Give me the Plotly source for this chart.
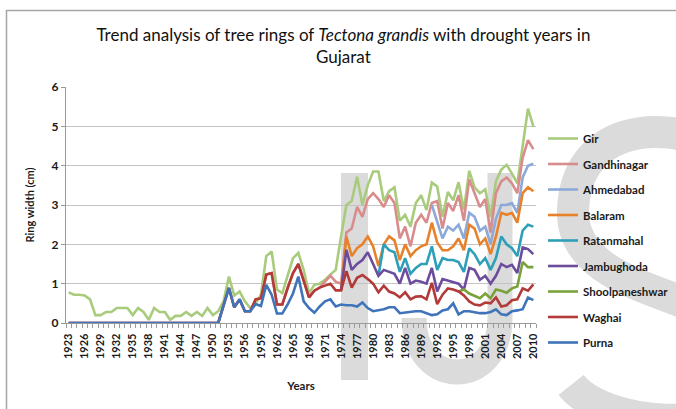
import plotly.graph_objects as go

years = list(range(1923, 2011))
tick_years = list(range(1923, 2011, 3))

# Visible line levels (cm); a series that has not started
# yet lies on the line of the series below it.
gir = [0.78, 0.72, 0.72, 0.7, 0.6, 0.2, 0.2, 0.28, 0.28, 0.38,
       0.38, 0.38, 0.2, 0.38, 0.28, 0.08, 0.38, 0.28, 0.28, 0.08,
       0.18, 0.18, 0.28, 0.18, 0.28, 0.18, 0.38, 0.2, 0.3, 0.55,
       1.18, 0.7, 0.8, 0.55, 0.38, 0.5, 0.72, 1.7, 1.82, 0.85,
       0.76, 1.18, 1.65, 1.78, 1.35, 0.76, 0.97, 1.0,
       1.1, 1.23, 1.35, 2.2, 3.0, 3.1, 3.72, 3.0, 3.5, 3.85,
       3.85, 3.1, 3.35, 3.45, 2.6, 2.75, 2.45, 3.05, 3.25, 2.87,
       3.57, 3.47, 2.7, 3.33, 3.12, 3.58, 2.87, 3.87, 3.45, 3.3,
       3.4, 2.7, 3.6, 3.9, 4.02, 3.8, 3.55, 4.5, 5.45, 5.0]
gandhinagar_start = 1971
gandhinagar = [1.05, 1.2, 1.05, 1.0, 2.3, 2.4, 2.95, 2.7, 3.15, 3.3,
               3.15, 2.95, 3.25, 3.05, 2.15, 2.45, 1.95, 2.55, 2.75, 2.55,
               3.05, 3.1, 2.4, 3.05, 2.85, 3.25, 2.6, 3.65, 3.3, 2.95,
               3.15, 2.3, 3.3, 3.6, 3.7, 3.55, 3.3, 4.2, 4.65, 4.42]
ahmedabad_start = 1991
ahmedabad = [3.0, 2.55, 2.15, 2.45, 2.35, 2.5, 2.15, 2.8, 2.7, 2.35,
             2.45, 2.0, 2.65, 3.0, 3.0, 3.05, 2.8, 3.7, 4.0, 4.05]
balaram_start = 1975
balaram = [2.2, 1.7, 1.9, 2.0, 2.2, 1.95, 1.45, 2.0, 2.2, 2.1,
           1.6, 2.0, 1.7, 1.85, 1.95, 2.0, 2.55, 2.05, 1.85, 1.85,
           1.95, 2.15, 1.85, 2.5, 2.4, 2.0, 2.15, 1.75, 2.2, 2.8,
           2.75, 2.8, 2.55, 3.3, 3.45, 3.35]
ratanmahal_start = 1982
ratanmahal = [2.0, 1.85, 1.8, 1.3, 1.65, 1.25, 1.4, 1.5, 1.5, 1.95,
              1.35, 1.65, 1.6, 1.6, 1.55, 1.3, 1.9, 1.75, 1.5, 1.65,
              1.35, 1.65, 2.2, 2.0, 1.9, 1.7, 2.35, 2.5, 2.45]
jambughoda_start = 1975
jambughoda = [1.86, 1.35, 1.5, 1.6, 1.8, 1.5, 1.2, 1.35, 1.3, 1.25,
              1.0, 1.4, 1.0, 1.08, 1.05, 1.0, 1.4, 0.8, 1.12, 1.08,
              1.05, 1.0, 0.85, 1.4, 1.35, 1.1, 1.2, 1.0, 1.2, 1.5,
              1.42, 1.48, 1.27, 1.92, 1.88, 1.75]
shoolpaneshwar_start = 1997
shoolpaneshwar = [0.85, 0.75, 0.68, 0.63, 0.75, 0.63, 0.85, 0.82, 0.77, 0.88,
                  0.93, 1.55, 1.42, 1.42]
waghai_start = 1958
waghai = [0.6, 0.63, 1.23, 1.27, 0.47, 0.47, 0.89, 1.27, 1.5, 1.1,
          0.65, 0.82, 0.9, 0.95, 1.0, 0.83, 0.83, 1.32, 0.9, 1.15,
          1.22, 1.12, 1.0, 0.78, 0.95, 0.8, 0.75, 0.65, 0.78, 0.6,
          0.67, 0.68, 0.6, 1.02, 0.48, 0.72, 0.88, 0.85, 0.8, 0.7,
          0.55, 0.47, 0.45, 0.52, 0.5, 0.65, 0.42, 0.45, 0.58, 0.6,
          0.88, 0.82, 0.98]
purna = [0, 0, 0, 0, 0, 0, 0, 0, 0, 0,
         0, 0, 0, 0, 0, 0, 0, 0, 0, 0,
         0, 0, 0, 0, 0, 0, 0, 0, 0, 0.45,
         0.89, 0.4, 0.6, 0.3, 0.3, 0.48, 0.43, 0.97, 0.72, 0.24,
         0.24, 0.47, 0.75, 1.18, 0.55, 0.38, 0.26, 0.42, 0.55, 0.6,
         0.42, 0.47, 0.45, 0.45, 0.42, 0.52, 0.38, 0.3, 0.33, 0.35,
         0.4, 0.4, 0.25, 0.27, 0.28, 0.3, 0.3, 0.25, 0.2, 0.22,
         0.32, 0.35, 0.5, 0.22, 0.3, 0.3, 0.27, 0.25, 0.25, 0.28,
         0.35, 0.22, 0.2, 0.3, 0.32, 0.35, 0.65, 0.58]

def pad(start, vals):
    return [None] * (start - years[0]) + list(vals)

# bottom-to-top order
names_bottom_up = ["Purna", "Waghai", "Shoolpaneshwar", "Jambughoda", "Ratanmahal",
                   "Balaram", "Ahmedabad", "Gandhinagar", "Gir"]
starts = {"Purna": 1923, "Waghai": waghai_start, "Shoolpaneshwar": shoolpaneshwar_start,
          "Jambughoda": jambughoda_start, "Ratanmahal": ratanmahal_start,
          "Balaram": balaram_start, "Ahmedabad": ahmedabad_start,
          "Gandhinagar": gandhinagar_start, "Gir": 1923}
lead_in = {"Ahmedabad": 0}
raw = [purna, pad(waghai_start, waghai), pad(shoolpaneshwar_start, shoolpaneshwar),
       pad(jambughoda_start, jambughoda), pad(ratanmahal_start, ratanmahal),
       pad(balaram_start, balaram), pad(ahmedabad_start, ahmedabad),
       pad(gandhinagar_start, gandhinagar), gir]
colors = {"Purna": "#3F74BA", "Waghai": "#B23A38", "Shoolpaneshwar": "#7AA23A",
          "Jambughoda": "#6C4C9C", "Ratanmahal": "#2E9FB8", "Balaram": "#E8822A",
          "Ahmedabad": "#8CA9D9", "Gandhinagar": "#D98C8C", "Gir": "#A9CB7C"}

levels = []
for k, series in enumerate(raw):
    row = []
    for i, v in enumerate(series):
        if v is None:
            v = levels[k - 1][i]
        row.append(v)
    levels.append(row)

fig = go.Figure()
for name, row in reversed(list(zip(names_bottom_up, levels))):
    first = starts[name] - lead_in.get(name, 1)
    yy = [v if yr >= first or name in ("Purna", "Gir", "Waghai", "Gandhinagar") else None
          for yr, v in zip(years, row)]
    fig.add_trace(go.Scatter(x=years, y=yy, mode="lines", name=name,
                             legendgroup=name,
                             line=dict(color=colors[name], width=2.6)))

W, H = 676, 409
# plot area in pixels
L, R, T, B = 66, 536, 87, 323
def px(x):
    return (x - L) / (R - L)
def py(y):
    return (B - y) / (B - T)

wm = "#DBDBDB"
def path(cmds):
    out = []
    for c in cmds:
        if isinstance(c, str):
            out.append(c)
        else:
            out.append("%f,%f" % (px(c[0]), py(c[1])))
    return " ".join(out)

shapes = [
    dict(type="rect", xref="paper", yref="paper", x0=px(341), x1=px(368),
         y0=py(380), y1=py(173), fillcolor=wm, line=dict(width=0), layer="below"),
    dict(type="path", xref="paper", yref="paper",
         path=path(["M", (500, 173), "L", (500, 318), "C", (500, 390), (414, 390), (414, 318)]),
         line=dict(color=wm, width=25), layer="below"),
    dict(type="path", xref="paper", yref="paper",
         path=path(["M", (712, 146), "C", (660, 118), (576, 128), (573, 210),
                    "C", (571, 268), (640, 285), (685, 303),
                    "C", (735, 322), (765, 352), (748, 392),
                    "C", (730, 432), (605, 428), (571, 385)]),
         line=dict(color=wm, width=32), layer="below"),
    dict(type="rect", xref="paper", yref="paper", x0=px(6.5), x1=px(690),
         y0=py(420), y1=py(10.5), line=dict(color="#A6A6A6", width=1.5),
         fillcolor="rgba(0,0,0,0)"),
]

font = "Lato, 'Open Sans', sans-serif"
fig.update_layout(
    width=W, height=H,
    margin=dict(l=L, r=W - R, t=T, b=H - B),
    paper_bgcolor="white", plot_bgcolor="rgba(0,0,0,0)",
    font=dict(family=font, color="#1A1A1A"),
    title=dict(text="Trend analysis of tree rings of <i>Tectona grandis</i> with drought years in<br>Gujarat",
               x=0.508, xref="container", xanchor="center",
               y=1 - 41 / H, yref="container", yanchor="top",
               font=dict(size=17, family=font, color="#111111")),
    xaxis=dict(range=[1922.5, 2010.5], tickmode="array", tickvals=tick_years,
               ticktext=[str(y) for y in tick_years], tickangle=-90,
               ticks="outside", ticklen=5, tickcolor="rgba(0,0,0,0)",
               tickfont=dict(size=11, weight="bold", color="#1A1A1A"),
               showgrid=False, showline=True, linecolor="#9A9A9A", linewidth=1.2,
               zeroline=False, automargin=False,
               minor=dict(tick0=1922.5, dtick=1, ticks="outside", ticklen=4,
                          tickcolor="#9A9A9A", showgrid=False),
               title=dict(text="Years", font=dict(size=11.5, weight="bold"), standoff=23)),
    yaxis=dict(range=[0, 6], dtick=1, ticks="outside", ticklen=4, tickcolor="#9A9A9A",
               tickfont=dict(size=12, weight="bold", color="#1A1A1A"),
               showgrid=True, gridcolor="#C4C4C4", gridwidth=1.2,
               showline=True, linecolor="#9A9A9A", linewidth=1.2, zeroline=False,
               automargin=False,
               title=dict(text="Ring width (cm)", font=dict(size=11, weight="bold"),
                          standoff=14)),
    legend=dict(x=543 / W, y=1 - 124 / H, xref="container", yref="container",
                xanchor="left", yanchor="top", maxheight=280,
                traceorder="grouped", tracegroupgap=6.5,
                font=dict(size=11.5, weight="bold", color="#1A1A1A"),
                bgcolor="rgba(0,0,0,0)"),
    shapes=shapes,
    showlegend=True,
)

fig.write_html("out.html", config={"displayModeBar": False},
               post_script="document.body.style.margin='0';")
